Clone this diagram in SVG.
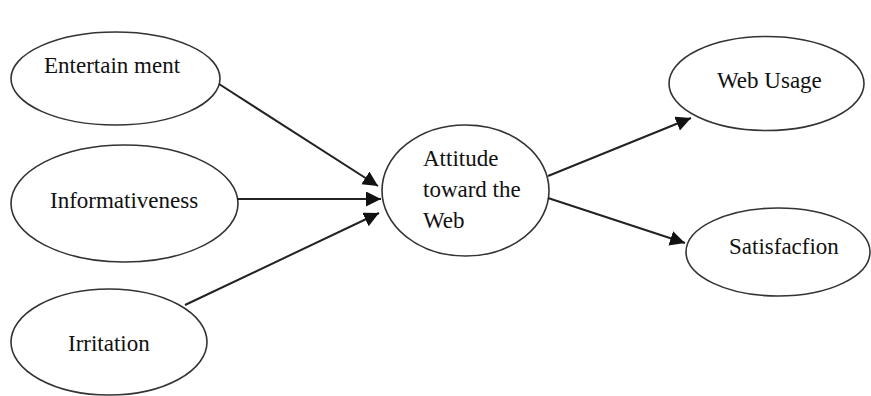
<svg xmlns="http://www.w3.org/2000/svg" width="871" height="396" viewBox="0 0 871 396">
<style>
.node ellipse{fill:#fff;stroke:#333;stroke-width:1.6}
.node text{font-family:"Liberation Serif","Times New Roman",serif;font-size:23px;fill:#111}
.edge line{stroke:#222;stroke-width:2}
</style>
<defs>
<marker id="ah" markerUnits="userSpaceOnUse" markerWidth="16" markerHeight="16" refX="15" refY="7.5" orient="auto">
<path d="M0,0 L15,7.5 L0,15 z" fill="#111"/>
</marker>
</defs>
<rect width="871" height="396" fill="#fff"/>
<g id="entertainment" class="node">
<ellipse cx="115.5" cy="78.5" rx="104.5" ry="46.5"/>
<text x="44" y="73">Entertain ment</text>
</g>
<g id="informativeness" class="node">
<ellipse cx="124.5" cy="203.5" rx="113.5" ry="58.5"/>
<text x="50" y="208">Informativeness</text>
</g>
<g id="irritation" class="node">
<ellipse cx="109" cy="342" rx="98" ry="53"/>
<text x="68" y="351">Irritation</text>
</g>
<g id="attitude" class="node">
<ellipse cx="465.5" cy="190.5" rx="83.5" ry="65.5"/>
<text x="423" y="166">Attitude</text>
<text x="423" y="197">toward the</text>
<text x="423" y="228">Web</text>
</g>
<g id="webusage" class="node">
<ellipse cx="766.5" cy="83.5" rx="97.5" ry="47"/>
<text x="717" y="88">Web Usage</text>
</g>
<g id="satisfaction" class="node">
<ellipse cx="778" cy="252" rx="92" ry="44"/>
<text x="729" y="254">Satisfacfion</text>
</g>
<g id="connectors" class="edge">
<line x1="219" y1="84" x2="378" y2="186" marker-end="url(#ah)"/>
<line x1="237" y1="199" x2="381" y2="199" marker-end="url(#ah)"/>
<line x1="185" y1="305" x2="379" y2="213" marker-end="url(#ah)"/>
<line x1="548" y1="176" x2="691" y2="118" marker-end="url(#ah)"/>
<line x1="548" y1="198" x2="685" y2="243" marker-end="url(#ah)"/>
</g>
</svg>
